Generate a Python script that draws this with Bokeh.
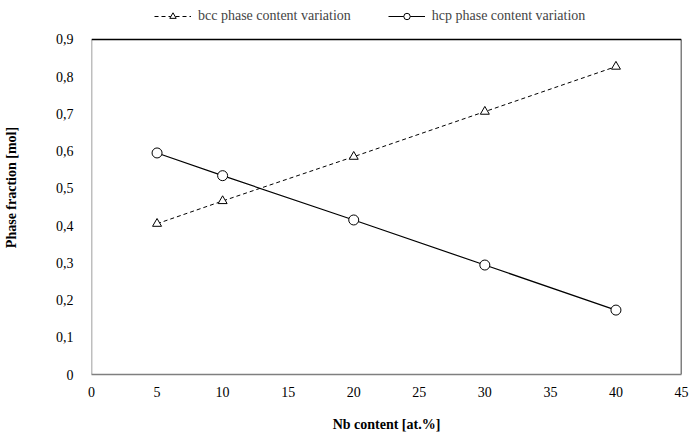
from bokeh.plotting import figure
from bokeh.models import Legend, LegendItem, FixedTicker, ColumnDataSource, Range1d
from bokeh.embed import file_html
from bokeh.resources import INLINE

nb_content = [5, 10, 20, 30, 40]
bcc_fraction = [0.405, 0.466, 0.585, 0.706, 0.827]
hcp_fraction = [0.595, 0.534, 0.415, 0.294, 0.173]
x_ticks = [0, 5, 10, 15, 20, 25, 30, 35, 40, 45]
y_ticks = [0, 0.1, 0.2, 0.3, 0.4, 0.5, 0.6, 0.7, 0.8, 0.9]
y_tick_labels = ["0", "0,1", "0,2", "0,3", "0,4", "0,5", "0,6", "0,7", "0,8", "0,9"]

FONT = "'Liberation Serif', 'Times New Roman', 'DejaVu Serif', serif"
W, H = 689, 434
BL, BR, BT, BB = 89, 8, 0, 59
frame_h = H - BT - BB
plot_top_px = 39  # where the 0.9 line sits (canvas px)
y_max = y_ticks[-1]
y_end = y_max * frame_h / (frame_h - (plot_top_px - BT))

p = figure(width=W, height=H, output_backend="svg", toolbar_location=None,
           x_range=Range1d(x_ticks[0], x_ticks[-1]), y_range=Range1d(y_ticks[0], y_end),
           min_border_left=BL, min_border_right=BR, min_border_top=BT, min_border_bottom=BB)

# frame borders: gray left, black top/right
p.segment(x0=[x_ticks[0]], y0=[y_ticks[0]], x1=[x_ticks[0]], y1=[y_max],
          line_color="#7f7f7f", line_width=1.5)
p.segment(x0=[x_ticks[0], x_ticks[-1]], y0=[y_max, y_ticks[0]],
          x1=[x_ticks[-1], x_ticks[-1]], y1=[y_max, y_max],
          line_color="black", line_width=1.5)

src = ColumnDataSource(dict(x=nb_content, bcc=bcc_fraction, hcp=hcp_fraction))

bl = p.line("x", "bcc", source=src, line_color="black", line_dash="4 3", line_width=1)
bm = p.scatter("x", "bcc", source=src, marker="triangle", size=9, fill_color="white",
               line_color="black", line_width=1)
hl = p.line("x", "hcp", source=src, line_color="black", line_width=1.2)
hm = p.scatter("x", "hcp", source=src, marker="circle", size=10, fill_color="white",
               line_color="black", line_width=1)

p.xgrid.visible = False
p.ygrid.visible = False
p.outline_line_color = None

for ax in (p.xaxis[0], p.yaxis[0]):
    ax.axis_line_color = "#7f7f7f"
    ax.axis_line_width = 1.5
    ax.major_tick_line_color = None
    ax.minor_tick_line_color = None
    ax.major_label_text_font = FONT
    ax.major_label_text_font_size = "14px"
    ax.major_label_text_color = "black"
    ax.axis_label_text_font = FONT
    ax.axis_label_text_font_size = "14px"
    ax.axis_label_text_font_style = "bold"
    ax.axis_label_text_color = "black"
p.yaxis.axis_line_color = None

p.xaxis.ticker = FixedTicker(ticks=x_ticks)
p.yaxis.ticker = FixedTicker(ticks=y_ticks)
p.yaxis.major_label_overrides = {t: l for t, l in zip(y_ticks, y_tick_labels)}
p.xaxis.major_label_standoff = 6
p.yaxis.major_label_standoff = 12
p.xaxis.axis_label = "Nb content [at.%]"
p.yaxis.axis_label = "Phase fraction [mol]"
p.xaxis.axis_label_standoff = 17
p.yaxis.axis_label_standoff = 34

legend = Legend(items=[
    LegendItem(label="bcc phase content variation", renderers=[bl, bm]),
    LegendItem(label="hcp phase content variation", renderers=[hl, hm]),
], orientation="horizontal", location=(63, frame_h - 25), border_line_color=None,
   background_fill_alpha=0, label_text_font=FONT, label_text_font_size="14px",
   glyph_width=37, glyph_height=16, spacing=37, padding=0, margin=0, label_standoff=7)
p.add_layout(legend)

open("out.html", "w").write(file_html(p, INLINE))
